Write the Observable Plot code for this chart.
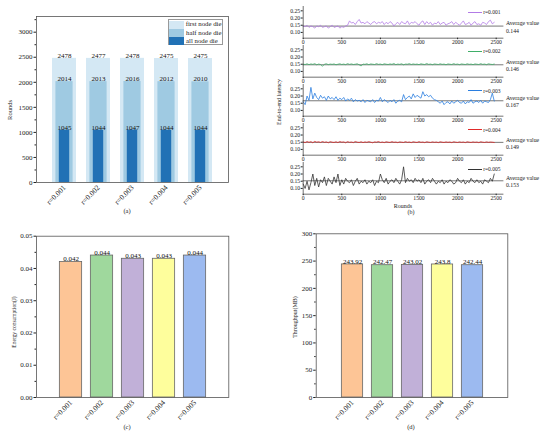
<!DOCTYPE html>
<html><head><meta charset="utf-8">
<script src="https://cdn.jsdelivr.net/npm/d3@7"></script>
<script src="https://cdn.jsdelivr.net/npm/@observablehq/plot@0.6"></script>
<style>
body{margin:0;background:#fff;}
#root{position:relative;width:550px;height:435px;font-family:"Liberation Serif","Times New Roman",serif;color:#222;overflow:hidden;background:#fff}
.abs{position:absolute}
.lbl{position:absolute;white-space:nowrap;transform:translate(-50%,-50%);line-height:1}
.rot{transform:translate(-50%,-50%) rotate(-90deg);}
</style></head><body><div id="root"></div>
<script>
// ---------- data ----------
const categories = ["r=0.001","r=0.002","r=0.003","r=0.004","r=0.005"];
const firstNodeDie = [2478,2477,2478,2475,2475];
const halfNodeDie  = [2014,2013,2016,2012,2010];
const allNodeDie   = [1045,1044,1047,1044,1044];
const energy = [0.042,0.044,0.043,0.043,0.044];
const throughput = [243.92,242.47,243.02,243.8,242.44];
const throughputLabels = ["243.92","242.47","243.02","243.8","242.44"];
const barColors = ["#fdc596","#9fd89d","#c1b0d8","#fefe9c","#9cbaf0"];
const latencyAverages = [0.144,0.146,0.167,0.149,0.153];
const latencyLabels = ["0.144","0.146","0.167","0.149","0.153"];
const latencyColors = ["#b27be6","#3fae68","#2a7ee0","#e02a2a","#333333"];
const roundStep = 25;
const latency001 = [
0.145,0.140,0.150,0.135,0.145,0.140,0.130,0.145,0.140,0.150,
0.135,0.140,0.145,0.130,0.140,0.150,0.135,0.140,0.145,0.130,
0.140,0.135,0.145,0.150,0.180,0.165,0.170,0.155,0.175,0.190,
0.165,0.170,0.160,0.175,0.165,0.155,0.170,0.175,0.160,0.170,
0.165,0.175,0.155,0.170,0.160,0.175,0.165,0.145,0.160,0.170,
0.155,0.175,0.165,0.160,0.180,0.155,0.170,0.165,0.175,0.160,
0.150,0.170,0.180,0.155,0.175,0.160,0.170,0.150,0.165,0.160,
0.175,0.155,0.165,0.170,0.150,0.160,0.165,0.175,0.155,0.170,
0.160,0.150,0.165,0.180,0.155,0.160,0.170,0.150,0.165,0.175,
0.155,0.160,0.150,0.170,0.165,0.155,0.175,0.185,0.160,0.170];
const latency002 = [
0.150,0.148,0.153,0.147,0.152,0.149,0.154,0.146,0.151,0.148,
0.136,0.150,0.153,0.147,0.151,0.149,0.152,0.146,0.150,0.153,
0.148,0.151,0.147,0.154,0.149,0.152,0.148,0.150,0.153,0.146,
0.138,0.151,0.149,0.153,0.147,0.152,0.150,0.148,0.154,0.149,
0.151,0.147,0.153,0.150,0.148,0.152,0.149,0.155,0.147,0.151,
0.149,0.153,0.146,0.151,0.150,0.154,0.148,0.152,0.149,0.151,
0.147,0.153,0.150,0.148,0.155,0.149,0.151,0.147,0.152,0.150,
0.148,0.153,0.149,0.151,0.146,0.152,0.150,0.148,0.154,0.149,
0.151,0.147,0.152,0.150,0.148,0.153,0.149,0.151,0.147,0.152,
0.150,0.148,0.154,0.149,0.151,0.147,0.153,0.150,0.148,0.151];
const latency003 = [
0.160,0.140,0.200,0.170,0.260,0.180,0.220,0.190,0.175,0.205,
0.185,0.195,0.170,0.200,0.180,0.190,0.175,0.195,0.170,0.185,
0.175,0.190,0.165,0.180,0.170,0.185,0.160,0.175,0.165,0.170,
0.160,0.175,0.155,0.170,0.165,0.160,0.175,0.155,0.170,0.165,
0.190,0.160,0.175,0.165,0.155,0.170,0.160,0.175,0.150,0.165,
0.170,0.160,0.210,0.175,0.190,0.200,0.180,0.215,0.190,0.205,
0.195,0.185,0.230,0.200,0.210,0.195,0.205,0.185,0.175,0.170,
0.160,0.150,0.165,0.140,0.155,0.160,0.145,0.165,0.150,0.160,
0.170,0.155,0.150,0.165,0.145,0.160,0.155,0.175,0.150,0.160,
0.165,0.155,0.170,0.150,0.165,0.160,0.155,0.175,0.220,0.165];
const latency004 = [
0.152,0.147,0.155,0.149,0.154,0.146,0.156,0.150,0.153,0.148,
0.155,0.149,0.152,0.146,0.154,0.150,0.148,0.153,0.147,0.155,
0.150,0.152,0.146,0.154,0.149,0.151,0.147,0.155,0.150,0.148,
0.153,0.147,0.152,0.149,0.154,0.150,0.146,0.152,0.150,0.155,
0.148,0.151,0.147,0.153,0.150,0.148,0.154,0.149,0.151,0.147,
0.152,0.150,0.148,0.154,0.149,0.151,0.147,0.153,0.150,0.148,
0.154,0.149,0.151,0.147,0.153,0.150,0.148,0.152,0.149,0.151,
0.147,0.153,0.150,0.148,0.152,0.149,0.151,0.147,0.153,0.150,
0.148,0.152,0.149,0.151,0.147,0.153,0.150,0.148,0.152,0.149,
0.151,0.147,0.153,0.150,0.148,0.152,0.149,0.151,0.150,0.148];
const latency005 = [
0.130,0.100,0.150,0.090,0.140,0.200,0.120,0.170,0.110,0.160,
0.140,0.180,0.120,0.170,0.150,0.130,0.180,0.140,0.200,0.120,
0.160,0.130,0.170,0.150,0.140,0.160,0.120,0.150,0.170,0.130,
0.150,0.140,0.160,0.130,0.150,0.140,0.160,0.120,0.150,0.140,
0.200,0.160,0.140,0.170,0.130,0.150,0.160,0.140,0.170,0.150,
0.130,0.160,0.250,0.140,0.170,0.150,0.160,0.140,0.170,0.150,
0.160,0.140,0.170,0.130,0.150,0.160,0.140,0.170,0.150,0.130,
0.150,0.140,0.160,0.130,0.150,0.140,0.160,0.150,0.130,0.140,
0.170,0.150,0.140,0.160,0.130,0.150,0.140,0.170,0.150,0.140,
0.160,0.140,0.150,0.130,0.160,0.150,0.140,0.170,0.150,0.200];
const latencySeries = [latency001,latency002,latency003,latency004,latency005];
const roundTicks = [0,500,1000,1500,2000,2500];
const latencyTicks = [0.10,0.15,0.20,0.25];

// ---------- helpers ----------
const root = document.getElementById("root");
const FONT = '"Liberation Serif","Times New Roman",serif';
function place(node, left, top){ const d=document.createElement("div"); d.className="abs"; d.style.left=left+"px"; d.style.top=top+"px"; d.appendChild(node); root.appendChild(d); return d; }
function label(text, x, y, size, rotate){ const d=document.createElement("div"); d.className="lbl"+(rotate?" rot":""); d.style.left=x+"px"; d.style.top=y+"px"; d.style.fontSize=size+"px"; d.textContent=text; root.appendChild(d); }
const baseStyle = (fs)=>({fontFamily:FONT, fontSize:fs+"px", background:"transparent", overflow:"visible", color:"#222"});

// ---------- panel (a) ----------
const rowsA = categories.map((r,i)=>({r, first:firstNodeDie[i], half:halfNodeDie[i], all:allNodeDie[i]}));
const plotA = Plot.plot({
  width:275, height:225, marginLeft:36, marginRight:47, marginTop:16, marginBottom:43,
  style: baseStyle(7),
  x:{type:"band", domain:categories, paddingInner:0, paddingOuter:0.29},
  y:{domain:[0,3313]},
  marks:[
    Plot.barY(rowsA,{x:"r", y:"first", fill:"#d4e8f4", insetLeft:5, insetRight:5}),
    Plot.barY(rowsA,{x:"r", y:"half", fill:"#9fcae2", insetLeft:8.4, insetRight:8.4}),
    Plot.barY(rowsA,{x:"r", y:"all", fill:"#2171b5", insetLeft:11.8, insetRight:11.8}),
    Plot.text(rowsA,{x:"r", y:"first", text:d=>String(d.first), lineAnchor:"bottom", dy:-0.5, fill:"#111"}),
    Plot.text(rowsA,{x:"r", y:"half", text:d=>String(d.half), lineAnchor:"bottom", dy:-0.5, fill:"#111"}),
    Plot.text(rowsA,{x:"r", y:"all", text:d=>String(d.all), lineAnchor:"bottom", dy:-0.5, fill:"#111"}),
    Plot.axisY({ticks:d3.range(0,3001,500), tickSize:2.5, tickPadding:1.5, label:null, tickFormat:d=>String(d)}),
    Plot.axisY({ticks:d3.range(250,3300,500), tickSize:1.5, tickFormat:()=>"", label:null}),
    Plot.axisX({tickRotate:-45, tickSize:0, tickPadding:4, label:null, fontSize:7.5}),
    Plot.frame({stroke:"#555", strokeWidth:0.8})
  ]
});
place(plotA,0,0);
// legend (a)
const leg = document.createElement("div");
leg.style.cssText = "width:55px;height:26px;border:0.8px solid #999;background:#fff;box-sizing:border-box;padding:0.5px 0 0 0.5px;font-size:6.8px;line-height:8.4px";
[["first node die","#d4e8f4"],["half node die","#9fcae2"],["all node die","#2171b5"]].forEach(([t,c])=>{
  const row=document.createElement("div"); row.style.cssText="display:flex;align-items:center;height:8.3px;white-space:nowrap";
  const sw=document.createElement("span"); sw.style.cssText=`display:inline-block;width:15px;height:8px;background:${c};margin-right:2px`;
  row.appendChild(sw); row.appendChild(document.createTextNode(t)); leg.appendChild(row);
});
place(leg,167.5,19);
label("Rounds",10,110,6.5,true);
label("(a)",127,211,6.5);

// ---------- panel (b) ----------
latencySeries.forEach((vals,i)=>{
  const rows = vals.map((v,j)=>({round:j*roundStep, v}));
  const yTop = 10 + 39.2*i;
  const p = Plot.plot({
    width:275, height:46, marginLeft:27.7, marginRight:46.6, marginTop:2, marginBottom:12.32,
    style: baseStyle(5.7),
    x:{domain:[0,2600]}, y:{domain:[0.06,0.28]},
    marks:[
      Plot.ruleY([latencyAverages[i]],{stroke:"#555", strokeWidth:0.8}),
      Plot.line(rows,{x:"round", y:"v", stroke:latencyColors[i], strokeWidth:0.8}),
      Plot.text([i],{y:k=>latencyAverages[k], frameAnchor:"right", textAnchor:"start", dx:2, dy:0.5, text:k=>"Average value\n"+latencyLabels[k], lineHeight:1.25, fontSize:5.8, fill:"#222"}),
      Plot.ruleX([0],{stroke:"#333", strokeWidth:0.7}),
      Plot.ruleY([0.06],{stroke:"#333", strokeWidth:0.7}),
      Plot.axisY({ticks:latencyTicks, tickFormat:d3.format(".2f"), tickSize:2, tickPadding:1, label:null}),
      Plot.axisX({ticks:roundTicks, tickSize:1.5, tickPadding:0.5, label:null, tickFormat:d=>String(d)})
    ]
  });
  place(p,275,yTop-6.32);
  // series legend
  const lg=document.createElement("div"); lg.style.cssText="display:flex;align-items:center;white-space:nowrap;font-size:5.5px;line-height:6px";
  const ln=document.createElement("span"); ln.style.cssText=`display:inline-block;width:13.7px;height:0;border-top:1px solid ${latencyColors[i]};margin-right:1.5px`;
  lg.appendChild(ln); lg.appendChild(document.createTextNode(categories[i]));
  place(lg,468,yTop-0.8);
});
label("End-to-end latency",279,102,6,true);
label("Rounds",403,206,6);
label("(b)",411,212,6);

// ---------- panels (c) and (d) ----------
function barPanel(values, labels, fmt, domain, ticks, minor, m){
  const rows = categories.map((r,i)=>({r, v:values[i], t:labels[i], c:barColors[i]}));
  return Plot.plot({
    width:275, height:210, marginLeft:m[0], marginRight:m[1], marginTop:m[2], marginBottom:m[3],
    style: baseStyle(7),
    x:{type:"band", domain:categories, paddingInner:0, paddingOuter:0.6},
    y:{domain},
    color:{type:"identity"},
    marks:[
      Plot.barY(rows,{x:"r", y:"v", fill:"c", stroke:"#666", strokeWidth:0.8, insetLeft:4.35, insetRight:4.35}),
      Plot.text(rows,{x:"r", y:"v", text:"t", lineAnchor:"bottom", dy:-0.8, fill:"#111"}),
      Plot.axisY({ticks, tickSize:2.5, tickPadding:1.5, label:null, tickFormat:fmt}),
      Plot.axisY({ticks:minor, tickSize:1.5, tickFormat:()=>"", label:null}),
      Plot.axisX({tickRotate:-45, tickSize:0, tickPadding:4, label:null, fontSize:7.5}),
      Plot.frame({stroke:"#555", strokeWidth:0.8})
    ]
  });
}
const plotC = barPanel(energy, energy.map(v=>v.toFixed(3)), d3.format(".2f"), [0,0.05],
  [0,0.01,0.02,0.03,0.04,0.05], [0.005,0.015,0.025,0.035,0.045], [36,46.7,10.7,38]);
place(plotC,0,225);
label("Energy consumption(J)",15,322,5.5,true);
label("(c)",127,427,6.5);

const plotD = barPanel(throughput, throughputLabels, d=>String(d), [0,300],
  [0,50,100,150,200,250,300], [25,75,125,175,225,275], [40.7,42.7,8.3,38]);
place(plotD,275,225);
label("Throughput(MB)",295,317,6,true);
label("(d)",411,427,6.5);
</script></body></html>
